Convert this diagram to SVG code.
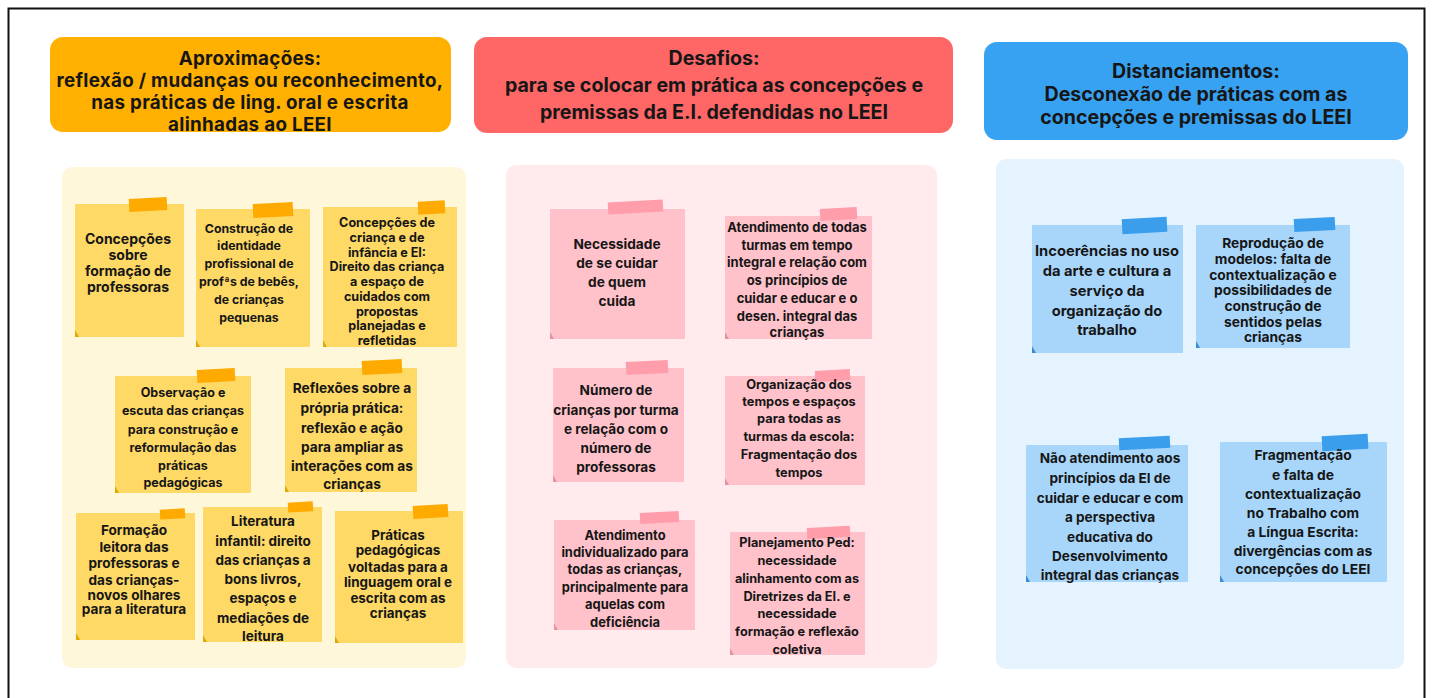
<svg xmlns="http://www.w3.org/2000/svg" width="1440" height="698" viewBox="0 0 1440 698">
<style>
text{font-family:"Inter","Lato","Liberation Sans",sans-serif;font-weight:700;fill:#161616;text-anchor:middle;dominant-baseline:central}
.h{font-size:19.6px}
.h1{font-size:18.8px;letter-spacing:0.3px}
.ny{fill:#FFD966}.ty{fill:#FFAA00}.cy{fill:#E0A800}
.np{fill:#FFC2CB}.tp{fill:#FF9DAB}.cp{fill:#E8909E}
.nb{fill:#A8D6FB}.tb{fill:#3A9EEC}.cb{fill:#3A8AD6}
</style>
<rect x="0" y="0" width="1440" height="698" fill="#ffffff"/>
<path d="M8.5 705 V8.5 H1424.5 V705" fill="none" stroke="#111" stroke-width="2"/>

<g id="header-aprox">
<rect x="50" y="37" width="401" height="95" rx="13" fill="#FFB000"/>
<text class="h1" x="250" y="58">Aproximações:</text>
<text class="h1" x="250" y="80">reflexão / mudanças ou reconhecimento,</text>
<text class="h1" x="250" y="102">nas práticas de ling. oral e escrita</text>
<text class="h1" x="250" y="124">alinhadas ao LEEI</text>
</g>
<g id="header-desafios">
<rect x="474" y="37" width="479" height="96" rx="13" fill="#FF6666"/>
<text class="h" x="714" y="58">Desafios:</text>
<text class="h" x="714" y="85">para se colocar em prática as concepções e</text>
<text class="h" x="714" y="112">premissas da E.I. defendidas no LEEI</text>
</g>
<g id="header-dist">
<rect x="984" y="42" width="424" height="98" rx="13" fill="#38A2F2"/>
<text class="h" x="1196" y="71">Distanciamentos:</text>
<text class="h" x="1196" y="94">Desconexão de práticas com as</text>
<text class="h" x="1196" y="117">concepções e premissas do LEEI</text>
</g>

<g id="panels">
<rect x="62" y="167" width="404" height="501" rx="10" fill="#FFF7DA"/>
<rect x="506" y="165" width="431" height="503" rx="10" fill="#FFEBEE"/>
<rect x="996" y="159" width="408" height="510" rx="10" fill="#E4F3FD"/>
</g>

<g id="connectors"></g>

<!-- Panel 1 notes -->
<g id="n1">
<rect class="ny" x="75" y="204" width="109" height="133"/>
<path class="cy" d="M75 330 l4 7 h-4z"/>
<rect class="ty" x="129" y="198" width="38" height="13" transform="rotate(-3 148 204)"/>
<text x="128" y="238" font-size="14">Concepções</text>
<text x="128" y="254" font-size="14">sobre</text>
<text x="128" y="270" font-size="14">formação de</text>
<text x="128" y="286" font-size="14">professoras</text>
</g>
<g id="n2">
<rect class="ny" x="196" y="209" width="114" height="138"/>
<path class="cy" d="M196 340 l4 7 h-4z"/>
<rect class="ty" x="253" y="203" width="40" height="14" transform="rotate(-3 273 210)"/>
<text x="249" y="228" font-size="12.3">Construção de</text>
<text x="249" y="245" font-size="12.3">identidade</text>
<text x="249" y="263" font-size="12.3">profissional de</text>
<text x="249" y="281" font-size="12.3">profªs de bebês,</text>
<text x="249" y="299" font-size="12.3">de crianças</text>
<text x="249" y="317" font-size="12.3">pequenas</text>
</g>
<g id="n3">
<rect class="ny" x="323" y="207" width="134" height="140"/>
<path class="cy" d="M323 340 l4 7 h-4z"/>
<rect class="ty" x="418" y="201" width="27" height="13" transform="rotate(-3 431 207)"/>
<text x="387" y="222" font-size="12.6">Concepções de</text>
<text x="387" y="237" font-size="12.6">criança e de</text>
<text x="387" y="252" font-size="12.6">infância e EI:</text>
<text x="387" y="266" font-size="12.6">Direito das criança</text>
<text x="387" y="281" font-size="12.6">a  espaço de</text>
<text x="387" y="296" font-size="12.6">cuidados com</text>
<text x="387" y="311" font-size="12.6">propostas</text>
<text x="387" y="325" font-size="12.6">planejadas e</text>
<text x="387" y="340" font-size="12.6">refletidas</text>
</g>
<g id="n4">
<rect class="ny" x="115" y="376" width="136" height="117"/>
<path class="cy" d="M115 486 l4 7 h-4z"/>
<rect class="ty" x="197" y="369" width="38" height="13" transform="rotate(-3 216 375)"/>
<text x="183" y="392" font-size="12.5">Observação e</text>
<text x="183" y="410" font-size="12.5">escuta das crianças</text>
<text x="183" y="429" font-size="12.5">para construção e</text>
<text x="183" y="447" font-size="12.5">reformulação das</text>
<text x="183" y="465" font-size="12.5">práticas</text>
<text x="183" y="482" font-size="12.5">pedagógicas</text>
</g>
<g id="n5">
<rect class="ny" x="285" y="368" width="132" height="124"/>
<path class="cy" d="M285 485 l4 7 h-4z"/>
<rect class="ty" x="362" y="360" width="40" height="14" transform="rotate(-3 382 367)"/>
<text x="352" y="388" font-size="13.7">Reflexões sobre a</text>
<text x="352" y="408" font-size="13.7">própria prática:</text>
<text x="352" y="428" font-size="13.7">reflexão e ação</text>
<text x="352" y="447" font-size="13.7">para ampliar as</text>
<text x="352" y="466" font-size="13.7">interações com as</text>
<text x="352" y="484" font-size="13.7">crianças</text>
</g>
<g id="n6">
<rect class="ny" x="76" y="513" width="119" height="127"/>
<path class="cy" d="M76 633 l4 7 h-4z"/>
<rect class="ty" x="160" y="509" width="25" height="10" transform="rotate(-3 172 514)"/>
<text x="134" y="530" font-size="13.6">Formação</text>
<text x="134" y="547" font-size="13.6">leitora das</text>
<text x="134" y="563" font-size="13.6">professoras e</text>
<text x="134" y="580" font-size="13.6">das crianças-</text>
<text x="134" y="595" font-size="13.6">novos olhares</text>
<text x="134" y="609" font-size="13.6">para a literatura</text>
</g>
<g id="n7">
<rect class="ny" x="203" y="507" width="119" height="135"/>
<path class="cy" d="M203 635 l4 7 h-4z"/>
<rect class="ty" x="288" y="502" width="25" height="10" transform="rotate(-3 300 507)"/>
<text x="263" y="521" font-size="13.5">Literatura</text>
<text x="263" y="541" font-size="13.5">infantil: direito</text>
<text x="263" y="560" font-size="13.5">das crianças a</text>
<text x="263" y="579" font-size="13.5">bons livros,</text>
<text x="263" y="598" font-size="13.5">espaços e</text>
<text x="263" y="618" font-size="13.5">mediações de</text>
<text x="263" y="636" font-size="13.5">leitura</text>
</g>
<g id="n8">
<rect class="ny" x="335" y="511" width="128" height="132"/>
<path class="cy" d="M335 636 l4 7 h-4z"/>
<rect class="ty" x="413" y="505" width="35" height="13" transform="rotate(-3 430 511)"/>
<text x="398" y="535" font-size="13.4">Práticas</text>
<text x="398" y="550" font-size="13.4">pedagógicas</text>
<text x="398" y="567" font-size="13.4">voltadas para a</text>
<text x="398" y="582" font-size="13.4">linguagem oral e</text>
<text x="398" y="598" font-size="13.4">escrita com as</text>
<text x="398" y="613" font-size="13.4">crianças</text>
</g>

<!-- Panel 2 notes -->
<g id="n9">
<rect class="np" x="550" y="209" width="135" height="130"/>
<path class="cp" d="M550 332 l4 7 h-4z"/>
<rect class="tp" x="608" y="201" width="55" height="12" transform="rotate(-3 635 207)"/>
<text x="617" y="244" font-size="13.7">Necessidade</text>
<text x="617" y="263" font-size="13.7">de se cuidar</text>
<text x="617" y="282" font-size="13.7">de quem</text>
<text x="617" y="301" font-size="13.7">cuida</text>
</g>
<g id="n10">
<rect class="np" x="725" y="216" width="147" height="123"/>
<path class="cp" d="M725 332 l4 7 h-4z"/>
<rect class="tp" x="820" y="208" width="37" height="12" transform="rotate(-3 838 214)"/>
<text x="797" y="227" font-size="13">Atendimento de todas</text>
<text x="797" y="245" font-size="13">turmas em tempo</text>
<text x="797" y="262" font-size="13">integral e relação com</text>
<text x="797" y="280" font-size="13">os princípios de</text>
<text x="797" y="298" font-size="13">cuidar e educar e o</text>
<text x="797" y="316" font-size="13">desen. integral das</text>
<text x="797" y="332" font-size="13">crianças</text>
</g>
<g id="n11">
<rect class="np" x="553" y="368" width="131" height="114"/>
<path class="cp" d="M553 475 l4 7 h-4z"/>
<rect class="tp" x="626" y="361" width="42" height="13" transform="rotate(-3 647 367)"/>
<text x="616" y="390" font-size="13.6">Número de</text>
<text x="616" y="410" font-size="13.6">crianças por turma</text>
<text x="616" y="429" font-size="13.6">e relação com o</text>
<text x="616" y="448" font-size="13.6">número de</text>
<text x="616" y="467" font-size="13.6">professoras</text>
</g>
<g id="n12">
<rect class="np" x="725" y="376" width="140" height="109"/>
<path class="cp" d="M725 478 l4 7 h-4z"/>
<rect class="tp" x="815" y="370" width="35" height="11" transform="rotate(-3 832 375)"/>
<text x="799" y="384" font-size="12.8">Organização dos</text>
<text x="799" y="401" font-size="12.8">tempos e espaços</text>
<text x="799" y="418" font-size="12.8">para todas as</text>
<text x="799" y="436" font-size="12.8">turmas da escola:</text>
<text x="799" y="454" font-size="12.8">Fragmentação dos</text>
<text x="799" y="472" font-size="12.8">tempos</text>
</g>
<g id="n13">
<rect class="np" x="554" y="520" width="141" height="110"/>
<path class="cp" d="M554 623 l4 7 h-4z"/>
<rect class="tp" x="640" y="512" width="39" height="11" transform="rotate(-3 660 518)"/>
<text x="625" y="535" font-size="12.9">Atendimento</text>
<text x="625" y="552" font-size="12.9">individualizado para</text>
<text x="625" y="569" font-size="12.9">todas as crianças,</text>
<text x="625" y="587" font-size="12.9">principalmente para</text>
<text x="625" y="604" font-size="12.9">aquelas com</text>
<text x="625" y="622" font-size="12.9">deficiência</text>
</g>
<g id="n14">
<rect class="np" x="730" y="532" width="135" height="123"/>
<path class="cp" d="M730 648 l4 7 h-4z"/>
<rect class="tp" x="807" y="527" width="43" height="11" transform="rotate(-3 828 532)"/>
<text x="797" y="542" font-size="12.7">Planejamento Ped:</text>
<text x="797" y="560" font-size="12.7">necessidade</text>
<text x="797" y="578" font-size="12.7">alinhamento com as</text>
<text x="797" y="596" font-size="12.7">Diretrizes da EI. e</text>
<text x="797" y="613" font-size="12.7">necessidade</text>
<text x="797" y="631" font-size="12.7">formação e reflexão</text>
<text x="797" y="649" font-size="12.7">coletiva</text>
</g>

<!-- Panel 3 notes -->
<g id="n15">
<rect class="nb" x="1032" y="225" width="151" height="128"/>
<path class="cb" d="M1032 346 l4 7 h-4z"/>
<rect class="tb" x="1122" y="218" width="45" height="15" transform="rotate(-3 1144 225)"/>
<text x="1107" y="251" font-size="14.7">Incoerências no uso</text>
<text x="1107" y="271" font-size="14.7">da arte e cultura a</text>
<text x="1107" y="291" font-size="14.7">serviço da</text>
<text x="1107" y="311" font-size="14.7">organização do</text>
<text x="1107" y="330" font-size="14.7">trabalho</text>
</g>
<g id="n16">
<rect class="nb" x="1196" y="225" width="154" height="123"/>
<path class="cb" d="M1196 341 l4 7 h-4z"/>
<rect class="tb" x="1294" y="218" width="41" height="13" transform="rotate(-3 1314 224)"/>
<text x="1273" y="243" font-size="13.8">Reprodução de</text>
<text x="1273" y="259" font-size="13.8">modelos: falta de</text>
<text x="1273" y="275" font-size="13.8">contextualização e</text>
<text x="1273" y="290" font-size="13.8">possibilidades de</text>
<text x="1273" y="306" font-size="13.8">construção de</text>
<text x="1273" y="322" font-size="13.8">sentidos pelas</text>
<text x="1273" y="337" font-size="13.8">crianças</text>
</g>
<g id="n17">
<rect class="nb" x="1026" y="445" width="162" height="137"/>
<path class="cb" d="M1026 575 l4 7 h-4z"/>
<rect class="tb" x="1119" y="437" width="51" height="12" transform="rotate(-3 1144 443)"/>
<text x="1110" y="458" font-size="13.6">Não atendimento aos</text>
<text x="1110" y="478" font-size="13.6">princípios da EI de</text>
<text x="1110" y="498" font-size="13.6">cuidar e educar e com</text>
<text x="1110" y="517" font-size="13.6">a perspectiva</text>
<text x="1110" y="537" font-size="13.6">educativa do</text>
<text x="1110" y="556" font-size="13.6">Desenvolvimento</text>
<text x="1110" y="575" font-size="13.6">integral das crianças</text>
</g>
<g id="n18">
<rect class="nb" x="1220" y="442" width="167" height="140"/>
<path class="cb" d="M1220 575 l4 7 h-4z"/>
<rect class="tb" x="1322" y="435" width="46" height="15" transform="rotate(-3 1345 442)"/>
<text x="1303" y="455" font-size="13.8">Fragmentação</text>
<text x="1303" y="475" font-size="13.8">e falta de</text>
<text x="1303" y="494" font-size="13.8">contextualização</text>
<text x="1303" y="513" font-size="13.8">no Trabalho com</text>
<text x="1303" y="532" font-size="13.8">a Língua Escrita:</text>
<text x="1303" y="551" font-size="13.8">divergências com as</text>
<text x="1303" y="569" font-size="13.8">concepções do LEEI</text>
</g>
</svg>
